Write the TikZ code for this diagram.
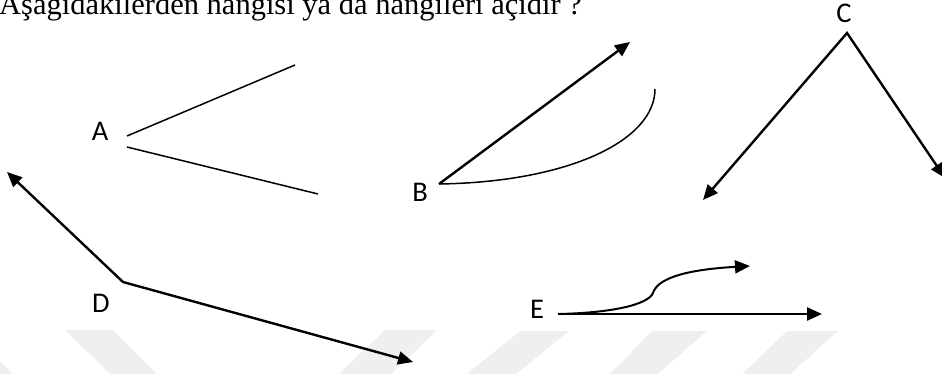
\documentclass[tikz,border=0pt]{standalone}
\usepackage{fontspec}
\setmainfont{Liberation Serif}
\newfontfamily\labfont{Carlito}
\usetikzlibrary{arrows.meta}
\definecolor{wm}{RGB}{239,239,239}
\tikzset{
  arr/.style={line width=2.4pt, -{Triangle[length=15pt,width=13pt]}},
  dblarr/.style={line width=2.4pt, {Triangle[length=15pt,width=13pt]}-{Triangle[length=15pt,width=13pt]}},
  plainline/.style={line width=1.5pt},
  lab/.style={inner sep=0pt, font=\labfont\fontsize{28.5}{30}\selectfont},
  band/.style={fill=wm, draw=none}
}
\begin{document}
\begin{tikzpicture}[x=1pt,y=-1pt]
\useasboundingbox (0,0) rectangle (942,374);
% watermark bands
\fill[band] (-79,330) -- (-31,330) -- (13,374) -- (-35,374) -- cycle;
\fill[band] (65,330) -- (113,330) -- (157,374) -- (110,374) -- cycle;
\fill[band] (385,330) -- (437,330) -- (391,374) -- (339,374) -- cycle;
\fill[band] (520,331) -- (569,331) -- (516,374) -- (467,374) -- cycle;
\fill[band] (652,331) -- (707,331) -- (658,374) -- (610,374) -- cycle;
\fill[band] (787,331) -- (838,331) -- (790,374) -- (742,374) -- cycle;
% title
\node[anchor=base west, inner sep=0pt, font=\fontsize{30.5}{32}\selectfont] (title) at (-1,14.5) {Aşağıdakilerden hangisi ya da hangileri açıdır ?};
% A
\node[lab] (la) at (100,131) {A};
\coordinate (a1) at (127,136);
\coordinate (a1e) at (295,65);
\coordinate (a2) at (127,147);
\coordinate (a2e) at (318,194);
\draw[plainline] (a1) -- (a1e);
\draw[plainline] (a2) -- (a2e);
% B
\node[lab] (lb) at (420,192) {B};
\coordinate (bv) at (439,184);
\coordinate (bt) at (630,42);
\coordinate (be) at (655,89);
\draw[arr] (bv) -- (bt);
\draw[plainline] (bv) .. controls (570,182) and (655,140) .. (be);
% C
\node[lab] (lc) at (844,13) {C};
\coordinate (cv) at (847,33);
\coordinate (cl) at (703,200);
\coordinate (cr) at (945,178);
\draw[dblarr, line join=miter] (cl) -- (cv) -- (cr);
% D
\node[lab] (ld) at (101,303) {D};
\coordinate (dv) at (123,282);
\coordinate (dl) at (7,172);
\coordinate (dr) at (413,362);
\draw[dblarr, line join=miter] (dl) -- (dv) -- (dr);
% E
\node[lab] (le) at (537,309) {E};
\coordinate (es) at (558,314);
\coordinate (et) at (822,314);
\coordinate (em) at (653,293);
\coordinate (ec) at (750,266);
\draw[arr] (es) -- (et);
\draw[arr, line width=2pt] (es) .. controls (610,313) and (648,305) .. (em) .. controls (657,280) and (680,270) .. (ec);
\end{tikzpicture}
\end{document}
